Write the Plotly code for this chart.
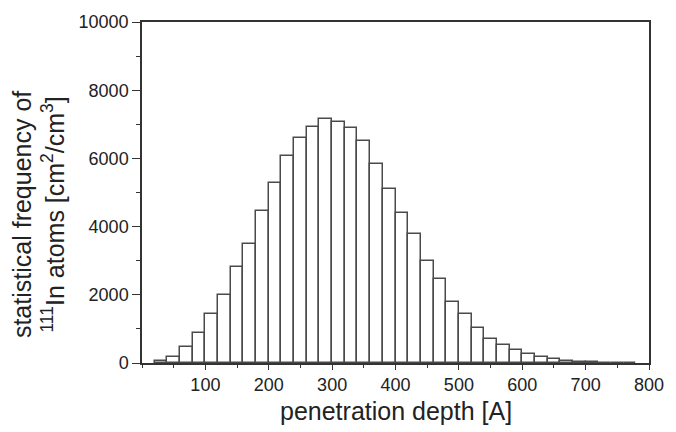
import plotly.graph_objects as go

# Histogram data: left bin edges (width 20 A) and frequencies
bin_left = [20, 40, 60, 80, 100, 120, 140, 160, 180, 200, 220, 240, 260, 280,
            300, 320, 340, 360, 380, 400, 420, 440, 460, 480, 500, 520, 540,
            560, 580, 600, 620, 640, 660, 680, 700, 720, 740, 760]
frequency = [50, 180, 470, 880, 1430, 1990, 2830, 3490, 4450, 5290, 6070, 6600,
             6930, 7170, 7080, 6900, 6510, 5830, 5110, 4410, 3770, 2980, 2470,
             1790, 1450, 1030, 700, 520, 375, 260, 180, 115, 60, 30, 15, 8, 5, 2]
bin_width = 20

x_ticks = [100, 200, 300, 400, 500, 600, 700, 800]
y_ticks = [0, 2000, 4000, 6000, 8000, 10000]
y_tick_labels = ["0", "2000", "4000", "6000", "8000", "10000"]

centers = [b + bin_width / 2 for b in bin_left]

FONT = "Liberation Sans, Arial, sans-serif"
AX = "#333333"
TXT = "#222222"

fig = go.Figure()
fig.add_trace(go.Bar(
    x=centers, y=frequency, width=[bin_width] * len(centers),
    marker=dict(color="white", line=dict(color="#4a4a4a", width=1.5)),
    showlegend=False,
))

fig.update_layout(
    width=676, height=432,
    margin=dict(l=142, r=20, t=15, b=69),
    paper_bgcolor="white", plot_bgcolor="white",
    font=dict(family=FONT, size=18, color=TXT),
    bargap=0,
    xaxis=dict(
        range=[0, 800], tickmode="array", tickvals=x_ticks,
        ticktext=[str(v) for v in x_ticks],
        ticks="outside", ticklen=5, tickwidth=1.3, tickcolor=AX,
        showline=True, linecolor=AX, linewidth=1.5, mirror=True,
        showgrid=False, zeroline=False,
        minor=dict(tickmode="linear", tick0=0, dtick=50, ticks="outside",
                   ticklen=3, tickwidth=1.2, tickcolor=AX, showgrid=False),
        tickfont=dict(family=FONT, size=18, color=TXT),
    ),
    yaxis=dict(
        range=[0, 10000], tickmode="array", tickvals=y_ticks,
        ticktext=y_tick_labels,
        ticks="outside", ticklen=8, tickwidth=1.3, tickcolor=AX,
        showline=True, linecolor=AX, linewidth=1.5, mirror=True,
        showgrid=False, zeroline=False,
        minor=dict(tickmode="linear", tick0=0, dtick=1000, ticks="outside",
                   ticklen=4, tickwidth=1.2, tickcolor=AX, showgrid=False),
        tickfont=dict(family=FONT, size=18, color=TXT),
    ),
    annotations=[
        dict(text="penetration depth [A]", xref="paper", yref="paper",
             x=0.5, y=-0.141, xanchor="center", yanchor="middle",
             showarrow=False, font=dict(family=FONT, size=25, color=TXT)),
        dict(text="statistical frequency of<br><sup>111</sup>In atoms [cm<sup>2</sup>/cm<sup>3</sup>]",
             xref="paper", yref="paper", x=-0.205, y=0.434,
             xanchor="center", yanchor="middle", textangle=-90,
             showarrow=False, font=dict(family=FONT, size=25, color=TXT)),
    ],
)

fig.write_html("out.html")
